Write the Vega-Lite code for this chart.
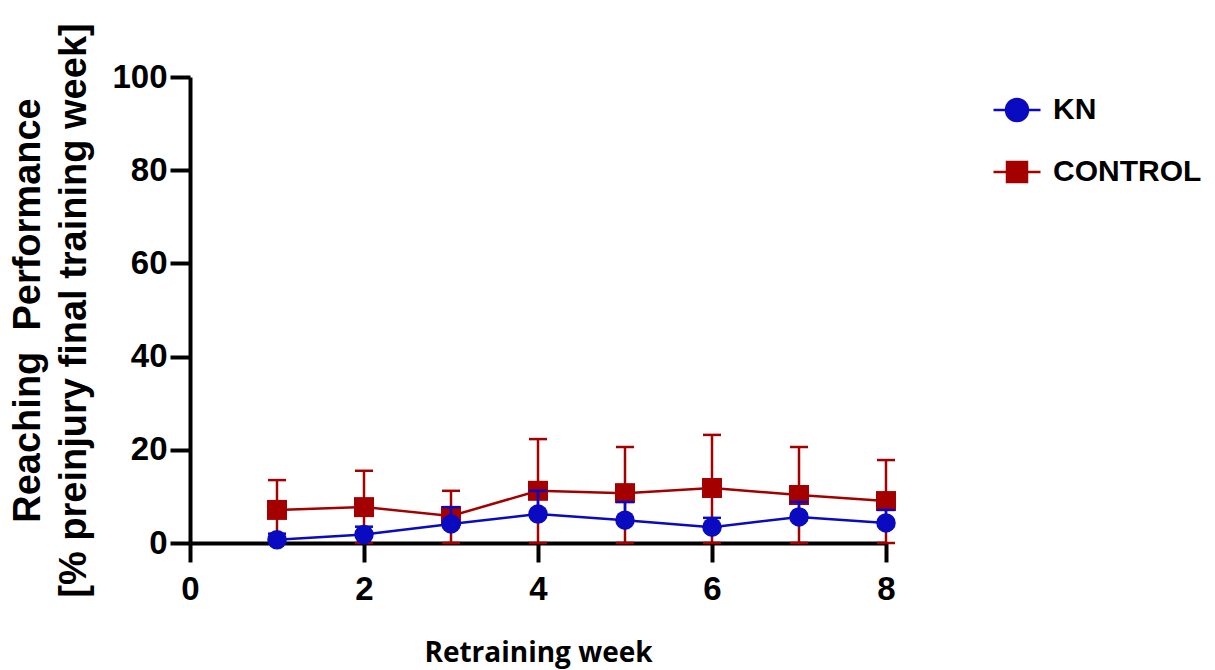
{
  "$schema": "https://vega.github.io/schema/vega-lite/v6.json",
  "autosize": "none",
  "width": 696,
  "height": 466,
  "padding": {"left": 190, "top": 77, "right": 329, "bottom": 127},
  "background": "white",
  "config": {
    "view": {"stroke": null},
    "axis": {
      "grid": false,
      "domainColor": "black",
      "domainWidth": 4,
      "tickColor": "black",
      "tickWidth": 4,
      "labelFont": "Liberation Sans",
      "labelFontWeight": "bold",
      "labelFontSize": 33,
      "labelColor": "black",
      "labelFlush": false
    }
  },
  "data": {
    "values": [
      {"week": 1, "group": "CONTROL", "mean": 7.1, "lo": 0.7, "hi": 13.5},
      {"week": 2, "group": "CONTROL", "mean": 7.7, "lo": 0, "hi": 15.5},
      {"week": 3, "group": "CONTROL", "mean": 5.8, "lo": 0, "hi": 11.2},
      {"week": 4, "group": "CONTROL", "mean": 11.2, "lo": 0, "hi": 22.3},
      {"week": 5, "group": "CONTROL", "mean": 10.7, "lo": 0, "hi": 20.6},
      {"week": 6, "group": "CONTROL", "mean": 11.8, "lo": 0, "hi": 23.2},
      {"week": 7, "group": "CONTROL", "mean": 10.3, "lo": 0, "hi": 20.6},
      {"week": 8, "group": "CONTROL", "mean": 9.0, "lo": 0, "hi": 17.8},
      {"week": 1, "group": "KN", "mean": 0.7, "lo": 0.7, "hi": 2.0},
      {"week": 2, "group": "KN", "mean": 1.8, "lo": 1.8, "hi": 3.5},
      {"week": 3, "group": "KN", "mean": 4.1, "lo": 4.1, "hi": 7.7},
      {"week": 4, "group": "KN", "mean": 6.2, "lo": 6.2, "hi": 11.2},
      {"week": 5, "group": "KN", "mean": 4.9, "lo": 4.9, "hi": 8.8},
      {"week": 6, "group": "KN", "mean": 3.4, "lo": 3.4, "hi": 5.4},
      {"week": 7, "group": "KN", "mean": 5.6, "lo": 5.6, "hi": 8.8},
      {"week": 8, "group": "KN", "mean": 4.3, "lo": 4.3, "hi": 7.1}
    ]
  },
  "encoding": {
    "x": {
      "field": "week",
      "type": "quantitative",
      "scale": {"domain": [0, 8], "nice": false, "zero": false},
      "axis": {
        "values": [0, 2, 4, 6, 8],
        "tickSize": 19,
        "labelPadding": 11,
        "title": "Retraining week",
        "titleFont": "Open Sans",
        "titleFontWeight": "bold",
        "titleFontSize": 28,
        "titleColor": "black",
        "titlePadding": 33
      }
    }
  },
  "layer": [
    {
      "transform": [{"filter": "datum.group === 'CONTROL'"}],
      "mark": {"type": "rule", "strokeWidth": 2.5, "color": "#a40000"},
      "encoding": {
        "y": {
          "field": "lo",
          "type": "quantitative",
          "scale": {"domain": [0, 100], "nice": false},
          "axis": {
            "values": [0, 20, 40, 60, 80, 100],
            "tickSize": 20,
            "labelPadding": 3,
            "title": ["Reaching\u00a0\u00a0Performance", "[% preinjury final training week]"],
            "titleFont": "Liberation Sans",
            "titleFontWeight": "bold",
            "titleFontSize": 38,
            "titleLineHeight": 46,
            "titleColor": "black",
            "titlePadding": 18
          }
        },
        "y2": {"field": "hi"}
      }
    },
    {
      "transform": [{"filter": "datum.group === 'CONTROL'"}],
      "mark": {"type": "tick", "orient": "horizontal", "size": 18, "thickness": 2.5, "color": "#a40000", "opacity": 1},
      "encoding": {"y": {"field": "hi", "type": "quantitative"}}
    },
    {
      "transform": [{"filter": "datum.group === 'CONTROL'"}],
      "mark": {"type": "tick", "orient": "horizontal", "size": 18, "thickness": 2.5, "color": "#a40000", "opacity": 1},
      "encoding": {"y": {"field": "lo", "type": "quantitative"}}
    },
    {
      "transform": [{"filter": "datum.group === 'CONTROL'"}],
      "mark": {"type": "line", "strokeWidth": 2.5, "color": "#a40000"},
      "encoding": {"y": {"field": "mean", "type": "quantitative"}}
    },
    {
      "transform": [{"filter": "datum.group === 'CONTROL'"}],
      "mark": {"type": "point", "shape": "square", "filled": true, "size": 400, "opacity": 1},
      "encoding": {
        "y": {"field": "mean", "type": "quantitative"},
        "color": {
          "field": "group",
          "type": "nominal",
          "scale": {"domain": ["KN", "CONTROL"], "range": ["#0a0ac0", "#a40000"]},
          "legend": {
            "orient": "none",
            "legendX": 812,
            "legendY": 18,
            "title": null,
            "labelFont": "Liberation Sans",
            "labelFontWeight": "bold",
            "labelFontSize": 30,
            "labelColor": "black",
            "labelOffset": 21,
            "rowPadding": 31,
            "symbolSize": 400,
            "symbolStrokeWidth": 2.5,
            "symbolOpacity": 1,
            "encode": {
              "symbols": {
                "update": {
                  "shape": {"signal": "datum.value === 'KN' ? 'M-2.35,0H-1.1M1.1,0H2.35M-1.1,0A1.1,1.1,0,1,0,1.1,0A1.1,1.1,0,1,0,-1.1,0Z' : 'M-2.35,0H-1M1,0H2.35M-1,-1H1V1H-1Z'"},
                  "stroke": {"signal": "datum.value === 'KN' ? '#0a0ac0' : '#a40000'"},
                  "fill": {"signal": "datum.value === 'KN' ? '#0a0ac0' : '#a40000'"}
                }
              }
            }
          }
        }
      }
    },
    {
      "transform": [{"filter": "datum.group === 'KN'"}],
      "mark": {"type": "rule", "strokeWidth": 2.5, "color": "#0a0ac0"},
      "encoding": {"y": {"field": "lo", "type": "quantitative"}, "y2": {"field": "hi"}}
    },
    {
      "transform": [{"filter": "datum.group === 'KN'"}],
      "mark": {"type": "tick", "orient": "horizontal", "size": 18, "thickness": 2.5, "color": "#0a0ac0", "opacity": 1},
      "encoding": {"y": {"field": "hi", "type": "quantitative"}}
    },
    {
      "transform": [{"filter": "datum.group === 'KN'"}],
      "mark": {"type": "line", "strokeWidth": 2.5, "color": "#0a0ac0"},
      "encoding": {"y": {"field": "mean", "type": "quantitative"}}
    },
    {
      "transform": [{"filter": "datum.group === 'KN'"}],
      "mark": {"type": "point", "shape": "circle", "filled": true, "size": 380, "opacity": 1},
      "encoding": {
        "y": {"field": "mean", "type": "quantitative"},
        "color": {"field": "group", "type": "nominal"}
      }
    }
  ]
}
